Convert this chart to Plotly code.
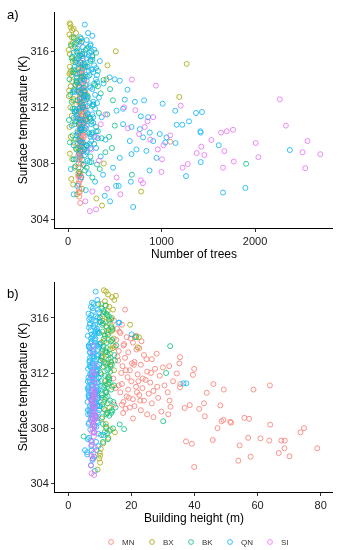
import plotly.graph_objects as go

# ---------------- data (one entry per census tract) ----------------
mn_temp = [313.15,312.7,312.5,312.3,311.87,311.97,311.4,311.2,310.96,311.2,
           310.8,310.8,311.1,310.57,310.0,309.55,309.0,309.46,309.67,309.4,
           309.8,309.65,308.86,308.75,308.68,308.5,308.6,308.46,308.4,308.0,
           308.25,307.7,308.0,307.3,307.26,307.1,307.1,307.1,307.04,306.87,
           307.14,306.75,306.54,306.54,306.2,305.96,305.93,305.64,305.18,
           316.6,315.5,315.2,314.9,314.6,314.4,314.2,314.0,313.8,313.6,
           313.5,313.3,313.1,313.0,312.9,312.8,312.6,312.5,312.3,312.2,
           312.1,312.0,311.9,311.8,311.7,311.5,311.4,311.3,311.2,311.1,
           311.0,310.9,310.8,310.7,310.6,310.5,310.4,310.3,310.2,310.1,
           310.0,309.9,309.8,309.6,309.5,309.3,309.1,309.0,308.8,308.7,
           309.2,310.6,312.4,313.4,314.7,315.8,313.9,311.6,310.9,309.7,
           315.0,314.5,314.1,313.7,313.2,312.7,312.2,311.6,311.1,310.6,
           310.2,309.7,313.0,312.0,311.0,310.0,314.3,312.6,311.4,309.4]
mn_trees = [160,145,180,130,155,170,140,125,190,135,
            120,115,130,150,165,1093,175,140,120,130,
            145,125,160,115,120,135,110,125,130,140,
            120,110,115,130,125,120,115,110,145,135,
            125,120,115,110,120,115,125,120,130,
            140,160,130,180,150,120,145,170,135,190,
            155,140,125,130,200,165,150,175,120,135,
            145,185,160,130,140,155,170,125,195,135,
            150,140,165,120,180,145,130,160,125,155,
            140,170,135,150,145,130,160,125,140,135,
            120,130,125,120,145,150,175,190,165,140,
            135,120,160,145,170,125,150,115,180,140,
            130,155,120,145,135,125,160,130,150,140]
mn_height = [35.4,35.2,32.0,39.9,39.5,34.4,33.2,35.5,35.4,46.0,
             49.3,58.7,63.9,43.9,32.1,32.4,31.7,36.9,38.5,41.5,
             43.0,48.2,43.3,55.8,57.3,48.6,49.2,51.3,51.6,47.3,
             64.0,73.6,74.7,57.0,60.9,63.7,67.5,68.6,37.3,39.2,
             45.8,54.3,68.5,78.9,66.7,70.1,57.8,53.9,39.9,
             18.0,17.0,15.5,16.5,18.5,15.2,20.5,17.5,22.5,16.0,
             19.0,24.0,18.0,26.5,15.8,21.0,23.0,17.2,27.5,19.5,
             25.0,16.8,22.0,29.0,18.8,24.5,20.0,26.0,17.0,30.5,
             21.5,23.5,19.0,27.0,16.5,25.5,22.5,18.5,28.5,20.5,
             24.0,17.5,26.5,21.0,19.5,23.0,17.4,25.0,27.0,20.5,
             29.5,31.5,30.0,28.0,21.5,14.5,14.8,14.3,15.0,14.6,
             16.2,19.8,17.7,21.6,15.6,20.2,18.3,23.6,16.0,21.8,
             19.2,17.0,24.8,26.2,28.2,22.8,23.2,20.8,22.2,18.2]

bx_temp = [318.0,317.9,317.6,317.3,317.0,316.8,316.5,316.3,316.0,315.8,
           315.5,315.3,315.1,315.0,314.8,314.6,314.6,314.4,314.2,314.0,
           313.86,313.7,313.5,313.3,313.0,312.8,312.74,312.5,312.2,312.0,
           311.7,311.4,311.0,310.6,310.2,309.9,309.5,309.1,308.7,308.3,
           308.0,307.7,307.3,306.9,306.5,306.2,306.0,305.5,305.0,305.8,
           307.9,309.3,311.2,313.1,315.7,
           317.7,317.2,316.6,316.1,315.4,314.9,314.3,313.8,313.2,312.6,
           317.5,316.9,315.9,314.5,313.6]
bx_trees = [18,25,60,85,40,110,30,75,511,20,
            95,50,1269,422,130,35,70,15,150,412,
            45,100,28,65,140,10,1190,55,90,25,
            120,40,75,15,105,30,60,85,20,45,
            383,70,110,35,55,150,782,304,364,95,
            160,200,240,180,260,
            30,15,50,8,70,20,40,90,12,60,
            45,65,100,25,80]
bx_height = [11.3,12.0,15.1,14.6,10.5,13.0,12.5,11.0,13.8,10.8,
             19.6,12.2,14.0,13.5,11.5,21.1,22.4,12.8,10.4,14.2,
             22.0,13.2,11.8,12.6,10.9,13.6,12.4,11.2,14.5,10.2,
             12.9,11.6,13.9,12.1,10.7,11.4,13.1,12.3,10.6,11.9,
             12.0,14.8,12.7,11.1,10.3,10.0,10.1,10.1,9.3,9.8,
             13.4,11.7,12.2,10.6,11.9,
             12.6,11.6,14.2,10.9,13.7,12.4,11.3,14.1,10.6,13.3,
             13.9,11.9,12.8,14.4,10.8]

bk_temp = [317.0,316.7,316.4,316.2,316.0,315.8,315.6,315.4,315.2,315.0,
           314.8,314.6,314.5,314.3,314.1,313.95,313.8,313.6,313.4,313.2,
           313.0,312.8,312.6,312.4,312.2,312.0,311.8,311.6,311.4,311.2,
           311.0,310.8,310.6,310.4,310.2,310.0,309.8,309.6,309.4,309.2,
           309.0,308.8,308.5,308.27,307.98,307.93,307.7,307.4,307.2,307.0,
           307.8,307.6,307.5,308.1,
           316.9,315.9,314.9,313.3,312.5,311.5,310.7,309.9,309.1,308.3,
           312.9,314.0,311.1,309.5,
           316.5,316.1,315.7,315.3,314.7,314.2,313.7,313.1,312.7,312.3,
           311.9,311.3,310.9,310.3,309.7,309.3,315.1,313.9,312.1,310.5,
           316.3,314.4,312.9,311.7,310.1,308.9,315.5,313.5,311.1,309.1]
bk_trees = [60,120,35,200,90,150,45,260,80,180,
            110,320,55,230,140,380,95,290,170,65,
            350,210,125,40,270,160,85,330,190,105,
            250,70,300,145,220,50,360,130,280,175,
            90,400,240,150,1905,310,200,120,683,260,
            80,340,180,230,
            140,300,210,450,480,420,500,440,470,60,
            25,15,10,20,
            70,190,130,240,60,170,280,110,210,150,
            50,230,120,300,80,200,160,90,260,140,
            220,100,180,70,250,130,40,320,190,110]
bk_height = [9.5,10.5,11.5,12.3,10.0,13.0,11.0,12.0,14.0,10.8,
             12.6,21.5,11.3,13.5,10.2,32.3,12.2,11.7,13.2,10.6,
             12.8,11.4,13.8,10.9,12.4,31.0,11.6,13.0,10.4,12.7,
             11.1,13.6,12.0,10.7,11.9,13.3,12.5,10.1,11.3,13.9,
             12.1,10.8,30.1,16.3,14.2,17.7,11.5,4.9,12.6,11.0,
             13.1,12.3,10.4,12.0,
             11.8,13.6,9.8,14.6,13.4,12.9,11.8,14.3,12.4,11.0,
             14.8,15.2,14.5,15.0,
             11.2,12.9,10.3,13.7,11.6,12.2,10.9,13.4,11.8,12.7,
             10.5,13.1,11.4,12.5,10.8,13.8,12.8,11.1,13.3,10.6,
             12.1,13.9,10.2,12.6,11.5,13.0,10.7,12.3,11.7,13.6]

qn_temp = [317.9,317.3,317.1,316.4,315.65,315.65,314.8,311.25,311.25,314.14,
           314.0,313.9,313.26,312.55,312.4,312.5,312.26,311.76,311.9,311.36,
           311.3,311.76,311.6,311.67,311.0,310.76,310.76,310.3,310.2,309.5,
           309.45,309.3,308.96,308.1,307.1,306.26,305.93,304.9,306.4,306.4,
           306.7,307.5,305.7,305.3,
           310.8,310.6,310.45,310.2,310.1,309.86,309.86,309.6,309.6,309.0,
           308.9,308.4,308.4,308.67,307.7,307.2,
           317.0,316.8,316.6,316.3,316.1,315.9,315.7,315.5,315.3,315.1,
           314.9,314.7,314.5,314.3,314.1,313.9,313.7,313.5,313.3,313.1,
           312.9,312.7,312.5,312.3,312.1,311.9,311.7,311.5,311.3,311.1,
           310.9,310.7,310.5,310.3,310.1,309.9,309.7,309.5,309.3,309.1,
           308.9,308.7,308.5,308.3,308.1,307.9,307.6,307.3,307.0,306.7,
           306.4,306.1,305.8,
           316.0,315.4,314.8,314.2,313.6,313.0,312.4,311.8,311.2,310.6,
           310.0,309.4,315.0,313.8,312.6,311.4,310.2,309.0,316.5,314.0,
           316.2,315.8,315.6,315.2,314.6,314.4,314.0,313.7,313.4,313.2,
           312.8,312.2,312.0,311.6,311.0,310.8,310.4,309.8,309.2,308.8,
           316.7,316.0,315.3,314.9,314.5,313.9,313.5,313.1,312.7,312.3,
           311.9,311.5,311.1,310.7,310.3,309.9,309.5,309.1,308.6,308.2,
           315.9,315.1,314.3,313.3,312.9,312.1,311.7,311.3,310.9,310.5,
           310.1,309.7,309.3,314.7,313.2,311.9,310.4,315.5,312.5,309.6]
qn_trees = [180,214,261,240,150,120,300,90,60,446,
            500,554,636,607,715,814,1012,519,589,779,
            857,1147,1369,1433,1294,1162,1222,1415,1419,1040,
            1150,1612,2373,1419,1262,1897,1658,697,514,543,
            672,872,393,450,
            589,679,768,875,982,1054,803,911,661,732,
            839,946,554,679,482,375,
            130,200,90,160,280,60,220,110,340,180,
            70,250,140,310,95,200,380,120,260,50,
            170,330,100,230,150,290,75,210,360,130,
            270,40,190,320,110,240,400,160,60,300,
            200,120,350,80,250,170,30,220,140,290,
            100,190,60,
            120,240,160,210,80,140,270,190,240,150,
            90,230,280,310,200,100,260,180,240,170,
            100,180,260,140,220,80,300,160,240,110,
            190,270,130,210,90,250,170,320,140,200,
            150,250,90,190,270,130,230,70,170,310,
            120,260,160,200,100,280,140,240,180,210,
            230,110,190,150,290,210,90,270,170,130,
            230,110,200,260,180,70,140,200,160,250]
qn_height = [8.7,9.2,7.5,9.8,15.9,16.2,20.1,36.5,37.4,7.0,
             8.0,6.5,9.0,7.8,8.4,6.8,9.3,7.2,8.6,6.9,
             9.6,7.7,8.1,6.4,9.1,7.3,8.8,6.6,9.4,7.9,
             8.3,6.2,7.6,8.9,7.1,6.0,8.2,8.4,5.3,7.4,
             9.5,11.2,7.7,7.2,
             6.3,7.4,8.2,6.7,9.0,7.5,8.7,6.9,9.2,7.0,
             8.5,6.6,9.4,7.8,8.1,6.2,
             8.0,7.2,9.5,6.4,8.8,7.6,9.9,6.8,8.3,7.1,
             9.2,6.2,8.6,7.4,9.7,6.6,8.1,7.0,9.4,6.9,
             8.4,7.7,9.1,6.3,8.9,7.3,9.6,6.7,8.2,7.9,
             9.0,6.5,8.5,7.5,9.3,6.1,8.0,7.2,9.8,6.8,
             8.7,7.6,9.1,6.4,8.3,7.0,9.5,6.6,8.8,7.3,
             9.0,6.0,7.8,
             7.0,8.0,7.5,8.5,7.8,9.0,7.1,8.3,7.4,8.9,
             7.6,8.1,9.4,6.9,9.8,6.2,9.6,6.3,7.9,9.1,
             7.3,8.6,6.9,9.1,7.7,8.4,6.5,9.3,7.9,8.0,
             6.7,9.0,7.4,8.8,6.4,9.5,7.6,8.2,7.0,8.9,
             7.8,9.3,6.6,8.5,7.2,9.7,6.8,8.1,7.5,9.0,
             6.9,8.4,7.3,9.2,6.5,8.6,7.7,9.4,7.1,8.3,
             6.6,8.8,7.4,9.6,6.8,8.0,7.9,9.1,6.3,8.7,
             7.2,9.3,6.7,8.2,7.6,9.0,6.4,8.5,7.0,9.8]

si_temp = [313.98,313.55,312.57,312.12,311.3,310.7,310.4,310.3,310.2,310.0,
           309.67,309.6,309.46,309.2,308.88,308.8,308.74,308.66,308.6,308.45,
           308.14,307.96,307.7,307.7,307.67,306.8,306.6,305.3,304.6,304.73,
           311.0,310.6,310.1,309.7,309.3,309.0,308.3,307.4,307.0,306.2,
           311.5,310.8,309.9,309.0,308.2,312.0,311.8,310.5,305.8,306.0]
si_trees = [683,940,2266,1205,911,2330,1765,1698,1637,1093,
            1533,2562,2008,1426,1672,2508,1376,2698,1458,2036,
            1773,1280,1226,1658,2537,779,801,186,233,300,
            850,820,760,880,1020,960,1005,1000,520,420,
            400,350,300,250,330,600,720,640,560,260]
si_height = [8.0,7.6,8.3,7.9,8.5,7.4,8.1,7.7,8.6,7.5,
             8.2,7.8,8.4,7.6,8.0,7.3,8.7,7.9,8.3,7.5,
             8.1,7.7,8.4,7.6,8.2,7.4,8.5,7.2,8.2,7.4,
             7.8,8.2,7.6,8.0,7.7,8.3,7.9,8.1,7.5,8.0,
             7.7,8.4,7.3,8.6,7.8,8.2,7.5,8.0,7.9,7.4]

borough_names = ["MN", "BX", "BK", "QN", "SI"]
borough_colors = ["#F8766D", "#A3A500", "#00BF7D", "#00B0F6", "#E76BF3"]
temps = [mn_temp, bx_temp, bk_temp, qn_temp, si_temp]
trees = [mn_trees, bx_trees, bk_trees, qn_trees, si_trees]
heights = [mn_height, bx_height, bk_height, qn_height, si_height]

x1_ticks = [0, 1000, 2000]
x2_ticks = [0, 20, 40, 60, 80]
y_ticks = [304, 308, 312, 316]

for t, a, b in zip(temps, trees, heights):
    assert len(t) == len(a) == len(b), (len(t), len(a), len(b))

# ---------------- figure ----------------
W, H = 339, 550
FONT = "Liberation Sans, Arial, sans-serif"
fig = go.Figure()

def marker(c):
    return dict(symbol="circle-open", size=5, color=c, line=dict(width=1, color=c))

for name, c, t, a in zip(borough_names, borough_colors, temps, trees):
    fig.add_trace(go.Scatter(x=a, y=t, mode="markers", name=name, marker=marker(c),
                             opacity=0.8, xaxis="x", yaxis="y", showlegend=False,
                             hoverinfo="skip"))
for name, c, t, b in zip(borough_names, borough_colors, temps, heights):
    fig.add_trace(go.Scatter(x=b, y=t, mode="markers", name=name, marker=marker(c),
                             opacity=0.8, xaxis="x2", yaxis="y2", showlegend=False,
                             hoverinfo="skip"))

xd = [55 / W, 333 / W]
ax_common = dict(showline=True, linecolor="black", linewidth=1, ticks="outside",
                 ticklen=3, tickwidth=1, tickcolor="#333333", showgrid=False,
                 zeroline=False, automargin=False,
                 tickfont=dict(size=11, color="#222222", family=FONT))
title_font = dict(size=12, color="black", family=FONT)

fig.update_layout(
    width=W, height=H, margin=dict(l=0, r=0, t=0, b=0, autoexpand=False),
    paper_bgcolor="white", plot_bgcolor="white",
    font=dict(family=FONT),
    xaxis=dict(domain=xd, range=[-139, 2834], tickvals=x1_ticks, anchor="y",
               title=dict(text="Number of trees", font=title_font, standoff=1), **ax_common),
    yaxis=dict(domain=[1 - 228 / H, 1 - 12 / H], range=[303.4, 318.8], tickvals=y_ticks,
               anchor="x", title=dict(text="Surface temperature (K)", font=title_font, standoff=0),
               **ax_common),
    xaxis2=dict(domain=xd, range=[-4.2, 83.9], tickvals=x2_ticks, anchor="y2",
                title=dict(text="Building height (m)", font=title_font, standoff=1), **ax_common),
    yaxis2=dict(domain=[1 - 492 / H, 1 - 282 / H], range=[303.37, 318.6], tickvals=y_ticks,
                anchor="x2", title=dict(text="Surface temperature (K)", font=title_font, standoff=0),
                **ax_common),
)

fig.add_annotation(text="a)", x=5 / W, y=1 - 5 / H, xref="paper", yref="paper",
                   xanchor="left", yanchor="top", showarrow=False,
                   font=dict(size=13, color="black", family=FONT))
fig.add_annotation(text="b)", x=5 / W, y=1 - 284 / H, xref="paper", yref="paper",
                   xanchor="left", yanchor="top", showarrow=False,
                   font=dict(size=13, color="black", family=FONT))

# legend row drawn at the bottom (ggplot style)
leg_x = [111, 152, 191, 230, 270]
leg_y = 542
for cx, name, c in zip(leg_x, borough_names, borough_colors):
    r = 2.4
    fig.add_shape(type="circle", xref="paper", yref="paper",
                  x0=(cx - r) / W, x1=(cx + r) / W,
                  y0=1 - (leg_y + r) / H, y1=1 - (leg_y - r) / H,
                  line=dict(color=c, width=1), opacity=0.8)
    fig.add_annotation(text=name, x=(cx + 9) / W, y=1 - leg_y / H, xref="paper", yref="paper",
                       xanchor="left", yanchor="middle", showarrow=False,
                       font=dict(size=8, color="#333333", family=FONT))

fig.write_html("out.html", config={"displayModeBar": False},
               post_script="document.body.style.margin='0';document.body.style.padding='0';")
